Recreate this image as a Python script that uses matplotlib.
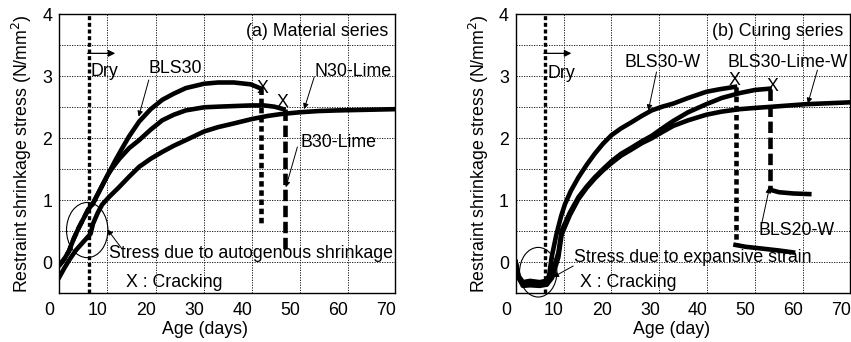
import numpy as np
import matplotlib.pyplot as plt
from matplotlib.patches import Ellipse

plt.rcParams['font.family'] = ['Liberation Sans', 'DejaVu Sans']
FS = 12.8
plt.rcParams['font.size'] = FS

# (a) Material series
bls30_d = [2, 3, 4, 5, 6, 7, 8, 9, 10, 11, 12, 13.7, 15, 16.5, 18.6, 21, 23.4, 25.8, 28.3, 32.1, 35, 38.3, 41.8, 44.0]
bls30_s = [-0.05, 0.05, 0.18, 0.38, 0.55, 0.7, 0.85, 0.95, 1.1, 1.25, 1.4, 1.65, 1.83, 2.03, 2.27, 2.47, 2.62, 2.72, 2.81, 2.88, 2.9, 2.9, 2.87, 2.80]
b30_d = [2, 3, 4, 5, 6, 7, 8, 9, 10, 11, 12, 13, 14.5, 16.5, 18.6, 21, 23.4, 25.8, 28.3, 32.1, 35, 38.3, 41.8, 44.6, 46.7, 48.6]
b30_s = [-0.05, 0.05, 0.18, 0.38, 0.55, 0.7, 0.85, 0.95, 1.1, 1.25, 1.4, 1.52, 1.67, 1.84, 1.97, 2.14, 2.29, 2.38, 2.45, 2.5, 2.51, 2.52, 2.53, 2.53, 2.51, 2.47]
n30_d = [2, 3, 4, 5.4, 7, 8.5, 9, 10, 10.9, 12.3, 14.4, 16.5, 18.6, 21, 23.4, 25.8, 28.3, 32.1, 35, 38.3, 42, 45.3, 48, 52, 56, 60, 66, 72]
n30_s = [-0.24, -0.1, 0.03, 0.19, 0.33, 0.46, 0.62, 0.8, 0.93, 1.05, 1.21, 1.38, 1.54, 1.67, 1.78, 1.88, 1.97, 2.11, 2.18, 2.24, 2.31, 2.36, 2.39, 2.42, 2.44, 2.45, 2.46, 2.47]
crack_a = [(44.0, 2.80, 0.62, (0, (1.2, 0.8))), (49.0, 2.47, 0.19, (0, (2.5, 1)))]

# (b) Curing series
w30_d = [2, 2.6, 3.5, 5, 7, 8.5, 9.0, 9.5, 10.5, 11.5, 12.3, 13.5, 15.1, 16.8, 18.5, 20.2, 22, 24, 26.2, 28.3, 30.4, 32.6, 34.9, 38, 41.8, 44.5, 47.8]
w30_s = [0, -0.25, -0.33, -0.32, -0.33, -0.3, -0.2, 0.08, 0.45, 0.75, 0.94, 1.15, 1.37, 1.57, 1.75, 1.91, 2.05, 2.16, 2.26, 2.36, 2.45, 2.51, 2.56, 2.65, 2.75, 2.79, 2.83]
w30_tail_d = [47.9, 50, 53.6, 57, 59.9]
w30_tail_s = [0.28, 0.25, 0.22, 0.19, 0.16]
lw30_d = [2, 2.6, 3.5, 5, 7, 8.5, 9.5, 10.9, 11.6, 13.3, 15.1, 16.8, 18.5, 20.2, 22, 24, 26.2, 28.3, 30.4, 32.6, 34.9, 38, 41.8, 45, 48.8, 52, 55.0]
lw30_s = [0, -0.22, -0.32, -0.3, -0.32, -0.3, -0.2, 0.15, 0.51, 0.8, 1.05, 1.22, 1.37, 1.5, 1.63, 1.75, 1.85, 1.95, 2.04, 2.16, 2.28, 2.42, 2.55, 2.65, 2.73, 2.78, 2.80]
lw30_tail_d = [55.1, 57, 60, 63.3]
lw30_tail_s = [1.17, 1.13, 1.11, 1.10]
w20_d = [2, 2.6, 3.5, 5, 7, 8.5, 9.6, 10.9, 11.6, 13.3, 15.1, 16.8, 18.5, 20.2, 22, 24, 26.2, 28.3, 30.4, 32.6, 34.9, 38, 41.8, 45, 48.8, 52, 55.7, 62.6, 71.8]
w20_s = [0, -0.25, -0.38, -0.37, -0.38, -0.36, -0.25, 0.08, 0.45, 0.76, 1.02, 1.2, 1.35, 1.48, 1.6, 1.72, 1.82, 1.92, 2.0, 2.1, 2.2, 2.29, 2.38, 2.43, 2.47, 2.49, 2.51, 2.55, 2.58]
crack_b = [(47.9, 2.83, 0.28, (0, (1.2, 0.8))), (55.1, 2.80, 1.17, (0, (2.5, 1)))]

x_labels = [0, 10, 20, 30, 40, 50, 60, 70]
x_grid = [12, 22, 32, 42, 52, 62]
dry_day = 8.1

fig = plt.figure(figsize=(8.51, 3.42), dpi=100)
axa = fig.add_axes([0.0697, 0.1424, 0.3945, 0.8158])
axb = fig.add_axes([0.606, 0.1424, 0.3928, 0.8158])

LW = 3.3


def setup(ax, xlab):
    ax.set_xlim(2, 71.8)
    ax.set_ylim(-0.5, 4)
    ax.set_xticks(x_grid)
    ax.set_xticklabels([])
    yt = np.arange(-0.5, 4.01, 0.5)
    ax.set_yticks(yt)
    ax.set_yticklabels(['' if v % 1 else f'{v:.0f}' for v in yt])
    ax.tick_params(length=0, pad=5, labelsize=FS)
    ax.grid(True, color='k', lw=0.6, ls=(0, (1.5, 1.5)))
    for s in ax.spines.values():
        s.set_linewidth(1.0)
    for v in x_labels:
        ax.text(v, -0.03, str(v), transform=ax.get_xaxis_transform(),
                ha='center', va='top', fontsize=FS, clip_on=False)
    ax.set_ylabel('Restraint shrinkage stress (N/mm$^2$)', fontsize=FS)
    ax.yaxis.set_label_coords(-0.075, 0.5)
    ax.set_xlabel(xlab, fontsize=FS)
    ax.axvline(dry_day, color='k', lw=2.4, ls=(0, (1.2, 0.8)))
    ax.annotate('', xy=(14.2, 3.37), xytext=(7.3, 3.37),
                arrowprops=dict(arrowstyle='-|>', color='k', lw=0.9, mutation_scale=10))


def arrow(ax, xy, xytext):
    ax.annotate('', xy=xy, xytext=xytext,
                arrowprops=dict(arrowstyle='-|>', color='k', lw=0.7, mutation_scale=8,
                                shrinkA=0, shrinkB=0))


# ---- panel (a)
setup(axa, 'Age (days)')
axa.xaxis.set_label_coords(0.434, -0.1)
d = np.array(bls30_d); s = np.array(bls30_s)
axa.plot(d[d <= 9], s[d <= 9], color='k', lw=LW, ls=(0, (2, 1)))
axa.plot(d[d >= 9], s[d >= 9], color='k', lw=LW)
axa.plot(b30_d, b30_s, color='k', lw=LW)
axa.plot(n30_d, n30_s, color='k', lw=LW)
for x, top, bot, ls in crack_a:
    axa.plot([x, x], [top, bot], color='k', lw=LW, ls=ls)
axa.text(44.2, 2.80, 'X', ha='center', va='center')
axa.text(48.5, 2.57, 'X', ha='center', va='center')
axa.add_patch(Ellipse((7.8, 0.52), 8.6, 0.89, fill=False, lw=0.8, color='k', clip_on=False))
axa.text(70.3, 3.72, '(a) Material series', ha='right', va='center')
axa.text(8.4, 3.07, 'Dry', ha='left', va='center')
axa.text(20.6, 3.13, 'BLS30', ha='left', va='center')
arrow(axa, (18.5, 2.35), (20.6, 2.94))
axa.text(55.0, 3.07, 'N30-Lime', ha='left', va='center')
arrow(axa, (52.9, 2.47), (55.0, 2.99))
axa.text(52.2, 1.94, 'B30-Lime', ha='left', va='center')
arrow(axa, (49.1, 1.21), (51.5, 1.86))
axa.text(12.4, 0.14, 'Stress due to autogenous shrinkage', ha='left', va='center')
arrow(axa, (12.0, 0.53), (15.0, 0.22))
axa.text(15.8, -0.32, 'X : Cracking', ha='left', va='center')

# ---- panel (b)
setup(axb, 'Age (day)')
axb.xaxis.set_label_coords(0.466, -0.1)
axb.plot(w30_d, w30_s, color='k', lw=LW)
axb.plot(w30_tail_d, w30_tail_s, color='k', lw=LW)
axb.plot(lw30_d, lw30_s, color='k', lw=LW)
axb.plot(lw30_tail_d, lw30_tail_s, color='k', lw=LW)
axb.plot(w20_d, w20_s, color='k', lw=LW)
for x, top, bot, ls in crack_b:
    axb.plot([x, x], [top, bot], color='k', lw=LW, ls=ls)
axb.text(47.6, 2.93, 'X', ha='center', va='center')
axb.text(55.6, 2.83, 'X', ha='center', va='center')
axb.add_patch(Ellipse((6.7, -0.16), 7.8, 0.8, fill=False, lw=0.8, color='k', clip_on=False))
axb.text(70.3, 3.72, '(b) Curing series', ha='right', va='center')
axb.text(8.6, 3.05, 'Dry', ha='left', va='center')
axb.text(24.8, 3.23, 'BLS30-W', ha='left', va='center')
arrow(axb, (29.7, 2.45), (31.4, 3.07))
axb.text(46.2, 3.23, 'BLS30-Lime-W', ha='left', va='center')
arrow(axb, (63.0, 2.56), (65.0, 3.1))
axb.text(52.6, 0.51, 'BLS20-W', ha='left', va='center')
arrow(axb, (55.0, 1.21), (53.3, 0.6))
axb.text(14.2, 0.08, 'Stress due to expansive strain', ha='left', va='center')
arrow(axb, (9.8, -0.24), (14.0, -0.06))
axb.text(15.4, -0.32, 'X : Cracking', ha='left', va='center')

fig.savefig('out.png', dpi=100)
